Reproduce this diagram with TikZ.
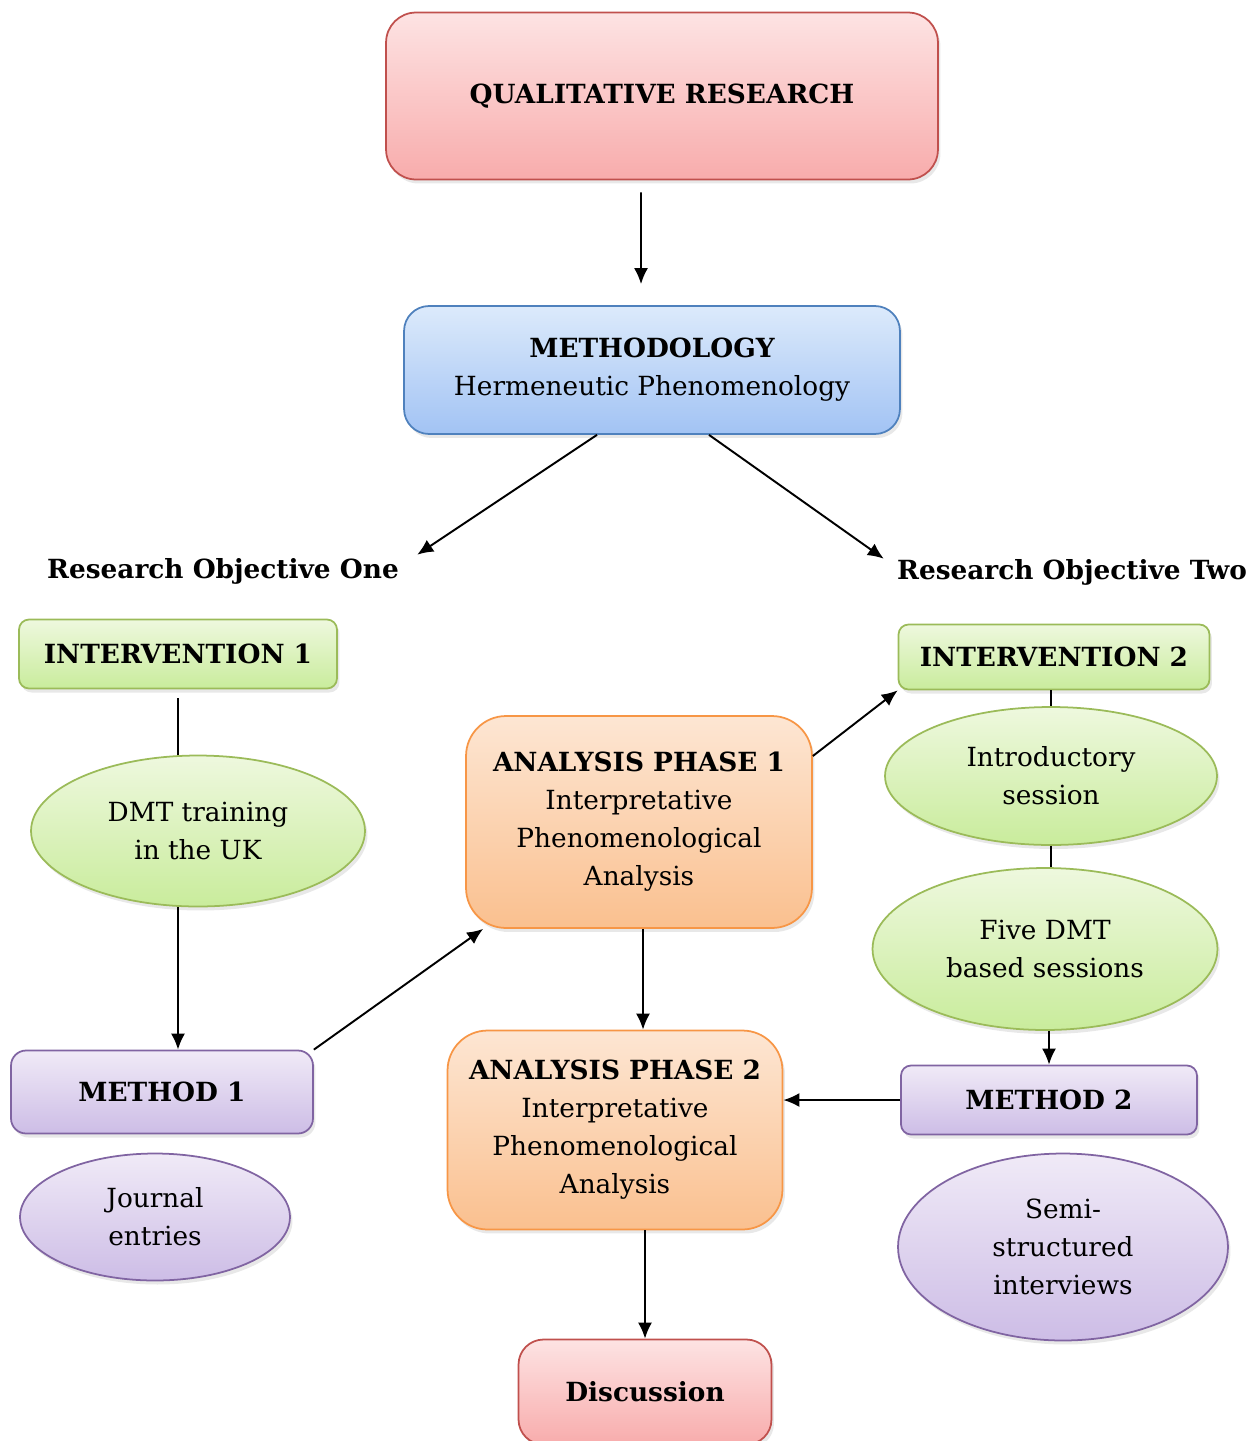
\documentclass[tikz,border=0pt]{standalone}
\usepackage{fontspec}
\setmainfont{DejaVu Serif}
\usetikzlibrary{shapes.geometric,arrows.meta,shadows}

\definecolor{redline}{HTML}{C0504D}
\definecolor{redtop}{HTML}{FDE3E3}
\definecolor{redbot}{HTML}{F8ACAC}
\definecolor{blueline}{HTML}{4F81BD}
\definecolor{bluetop}{HTML}{DCEAFB}
\definecolor{bluebot}{HTML}{A2C3F4}
\definecolor{greenline}{HTML}{9BBB59}
\definecolor{greentop}{HTML}{EEF8DE}
\definecolor{greenbot}{HTML}{C9EC9C}
\definecolor{orangeline}{HTML}{F79646}
\definecolor{orangetop}{HTML}{FDE6D3}
\definecolor{orangebot}{HTML}{FAC08F}
\definecolor{purpleline}{HTML}{8064A2}
\definecolor{purpletop}{HTML}{F0EAF7}
\definecolor{purplebot}{HTML}{CDBDE6}

\tikzset{
	box/.style={rectangle, rounded corners=0.3cm, draw, line width=1pt, align=center,
		drop shadow={opacity=0.18, shadow xshift=0.05cm, shadow yshift=-0.08cm}},
	oval/.style={ellipse, draw, line width=1pt, align=center, inner sep=0pt,
		drop shadow={opacity=0.18, shadow xshift=0.05cm, shadow yshift=-0.08cm}},
	redbox/.style={box, draw=redline, top color=redtop, bottom color=redbot},
	bluebox/.style={box, draw=blueline, top color=bluetop, bottom color=bluebot},
	greenbox/.style={box, draw=greenline, top color=greentop, bottom color=greenbot},
	greenoval/.style={oval, draw=greenline, top color=greentop, bottom color=greenbot},
	orangebox/.style={box, draw=orangeline, top color=orangetop, bottom color=orangebot},
	purplebox/.style={box, draw=purpleline, top color=purpletop, bottom color=purplebot},
	purpleoval/.style={oval, draw=purpleline, top color=purpletop, bottom color=purplebot},
	link/.style={-{Latex[length=0.32cm, width=0.28cm]}, line width=1.1pt},
	tie/.style={line width=1.1pt}
}

\begin{document}
\begin{tikzpicture}[x=0.02cm, y=-0.02cm, font=\fontsize{15}{21.6}\selectfont]
	\useasboundingbox (0,0) rectangle (1260,1441);
	% top of the chart
	\node (QR) at (662, 96)	[redbox, rounded corners=0.6cm, minimum width=11.04cm, minimum height=3.34cm]	{\bfseries QUALITATIVE RESEARCH};
	\node (MET) at (652, 370)	[bluebox, rounded corners=0.5cm, minimum width=9.92cm, minimum height=2.56cm]	{\bfseries METHODOLOGY\\Hermeneutic Phenomenology};
	\node (RO1) at (223, 571)	[inner sep=0pt]	{\bfseries Research Objective One};
	\node (RO2) at (1072, 572)	[inner sep=0pt]	{\bfseries Research Objective Two};
	% objective one
	\node (INT1) at (178, 654)	[greenbox, rounded corners=0.2cm, minimum width=6.36cm, minimum height=1.38cm]	{\bfseries INTERVENTION 1};
	\node (DMT) at (198, 831)	[greenoval, minimum width=6.68cm, minimum height=3.02cm]	{DMT training\\in the UK};
	\node (MET1) at (162, 1092)	[purplebox, minimum width=6.04cm, minimum height=1.66cm]	{\bfseries METHOD 1};
	\node (JE) at (155, 1217)	[purpleoval, minimum width=5.4cm, minimum height=2.54cm]	{Journal\\entries};
	% analysis
	\node (AP1) at (639, 822)	[orangebox, rounded corners=0.8cm, minimum width=6.92cm, minimum height=4.24cm]	{\bfseries ANALYSIS PHASE 1\\Interpretative\\Phenomenological\\Analysis};
	\node (AP2) at (615, 1130)	[orangebox, rounded corners=0.8cm, minimum width=6.7cm, minimum height=3.98cm]	{\bfseries ANALYSIS PHASE 2\\Interpretative\\Phenomenological\\Analysis};
	\node (DIS) at (645, 1392)	[redbox, rounded corners=0.5cm, minimum width=5.06cm, minimum height=2.1cm]	{\bfseries Discussion};
	% objective two
	\node (INT2) at (1054, 657)	[greenbox, rounded corners=0.2cm, minimum width=6.22cm, minimum height=1.3cm]	{\bfseries INTERVENTION 2};
	\node (IS) at (1051, 776)	[greenoval, minimum width=6.64cm, minimum height=2.76cm]	{Introductory\\session};
	\node (FD) at (1045, 949)	[greenoval, minimum width=6.9cm, minimum height=3.24cm]	{Five DMT\\based sessions};
	\node (MET2) at (1049, 1100)	[purplebox, rounded corners=0.2cm, minimum width=5.92cm, minimum height=1.38cm]	{\bfseries METHOD 2};
	\node (SSI) at (1063, 1247)	[purpleoval, minimum width=6.6cm, minimum height=3.74cm]	{Semi-\\structured\\interviews};

	\draw[link, shorten <=0.24cm, shorten >=0.42cm] ([xshift=-0.42cm]QR.south) -- ([xshift=-0.22cm]MET.north);
	\draw[link] ([xshift=-1.1cm]MET.south) -- ([xshift=0.36cm, yshift=0.06cm]RO1.north east);
	\draw[link] ([xshift=1.14cm]MET.south) -- ([xshift=-0.26cm]RO2.north west);
	\draw[tie, shorten <=0.18cm] (INT1.south) -- (INT1.south |- DMT.north);
	\draw[link] (DMT.south -| INT1.south) -- (MET1.north -| INT1.south);
	\draw[link] (MET1.north east) -- ([xshift=0.36cm]AP1.south west);
	\draw[link] ([yshift=1.32cm]AP1.east) -- (INT2.south west);
	\draw[tie] (INT2.south -| IS.north) -- (IS.north);
	\draw[tie] (IS.south) -- (IS.south |- FD.north);
	\draw[link] (MET2.north |- FD.south) -- (MET2.north);
	\draw[link] (MET2.west) -- (AP2.east |- MET2.west);
	\draw[link] ([xshift=0.08cm]AP1.south) -- ([xshift=0.08cm]AP1.south |- AP2.north);
	\draw[link] (DIS.north |- AP2.south) -- (DIS.north);
\end{tikzpicture}
\end{document}
